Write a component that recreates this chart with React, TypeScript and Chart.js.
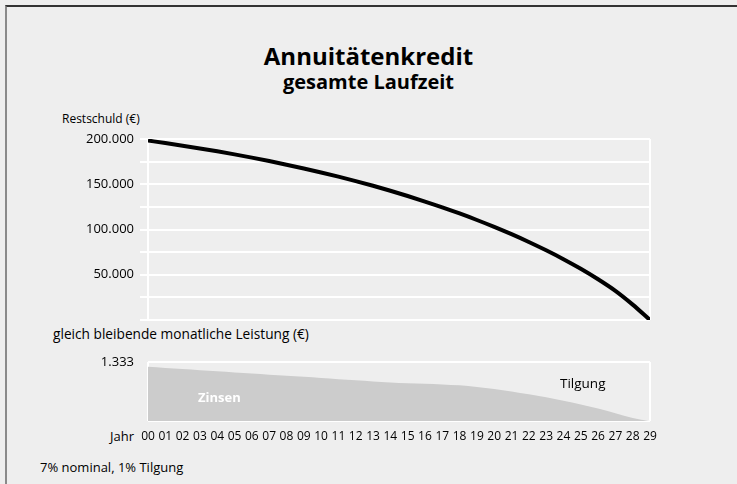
import React, { useEffect, useRef } from 'react';
import { Chart, registerables } from 'chart.js';

Chart.register(...registerables);

// ---- data ----
const years = ['00','01','02','03','04','05','06','07','08','09','10','11','12','13','14','15','16','17','18','19','20','21','22','23','24','25','26','27','28','29'];
const restschuld = [198300, 195500, 192600, 189600, 186400, 183000, 179400, 175600, 171600, 167400, 163000, 158400, 153500, 148300, 142800, 137000, 130900, 124500, 117700, 110500, 102900, 94800, 86200, 77000, 67200, 56600, 45000, 32200, 17000, 0];
const zinsen = [1225, 1200, 1174, 1149, 1124, 1098, 1073, 1047, 1022, 997, 971, 946, 920, 895, 872, 855, 840, 825, 805, 770, 725, 668, 603, 535, 455, 370, 280, 175, 70, 0];
const restschuldGrid = [0, 25000, 50000, 75000, 100000, 125000, 150000, 175000, 200000];
const restschuldLabels = [200000, 150000, 100000, 50000];
const leistungMax = 1333;

const W = 737;
const H = 484;
const FONT = "'Open Sans', 'Noto Sans', sans-serif";
const TEXT = '#000000';
const BG = '#eeeeee';

const fmt = (v: number) => String(Math.round(v)).replace(/\B(?=(\d{3})+(?!\d))/g, '.');

export default function App() {
  const topRef = useRef<HTMLCanvasElement | null>(null);
  const botRef = useRef<HTMLCanvasElement | null>(null);

  useEffect(() => {
    Chart.defaults.font.family = FONT;
    Chart.defaults.color = TEXT;
    const top = new Chart(topRef.current as HTMLCanvasElement, {
      type: 'line',
      data: {
        datasets: [
          {
            data: restschuld.map((v, i) => ({ x: i, y: v })),
            borderColor: '#000000',
            borderWidth: 4,
            pointRadius: 0,
            fill: false,
            cubicInterpolationMode: 'monotone',
          },
        ],
      },
      options: {
        responsive: false,
        animation: false,
        events: [],
        layout: { padding: { top: 139, right: W - 650, left: 0, bottom: 0 } },
        plugins: { legend: { display: false }, tooltip: { enabled: false }, title: { display: false } },
        scales: {
          x: {
            type: 'linear',
            min: 0,
            max: years.length - 1,
            afterBuildTicks: (s: any) => {
              s.ticks = [{ value: 0 }, { value: years.length - 1 }];
            },
            ticks: { display: false },
            grid: { color: '#ffffff', lineWidth: 2, drawTicks: false },
            border: { display: false },
            afterFit: (s: any) => {
              s.height = H - 320;
            },
          },
          y: {
            min: 0,
            max: 200000,
            afterBuildTicks: (s: any) => {
              s.ticks = restschuldGrid.map((v) => ({ value: v }));
            },
            ticks: {
              callback: (v: any) => (restschuldLabels.includes(Number(v)) ? fmt(Number(v)) : ''),
              padding: 6,
              color: TEXT,
              font: { size: 13, family: FONT },
            },
            grid: { color: '#ffffff', lineWidth: 2, drawTicks: true, tickLength: 8 },
            border: { display: false },
            afterFit: (s: any) => {
              s.width = 148;
            },
          },
        },
      },
    } as any);

    const bot = new Chart(botRef.current as HTMLCanvasElement, {
      type: 'line',
      data: {
        labels: years,
        datasets: [
          {
            data: zinsen,
            fill: 'origin',
            backgroundColor: '#cccccc',
            borderWidth: 0,
            borderColor: 'rgba(0,0,0,0)',
            pointRadius: 0,
            cubicInterpolationMode: 'monotone',
          },
        ],
      },
      options: {
        responsive: false,
        animation: false,
        events: [],
        layout: { padding: { top: 362, right: W - 650, left: 0, bottom: 0 } },
        plugins: { legend: { display: false }, tooltip: { enabled: false }, title: { display: false } },
        scales: {
          x: {
            type: 'category',
            offset: false,
            z: 1,
            grid: {
              color: (ctx: any) => (ctx.index === 0 || ctx.index === years.length - 1 ? '#ffffff' : 'rgba(0,0,0,0)'),
              lineWidth: 2,
              drawTicks: false,
            },
            border: { display: false },
            ticks: { autoSkip: false, maxRotation: 0, minRotation: 0, padding: 8, color: TEXT, font: { size: 12, family: FONT } },
            afterFit: (s: any) => {
              s.height = H - 421;
            },
          },
          y: {
            min: 0,
            max: leistungMax,
            z: 1,
            afterBuildTicks: (s: any) => {
              s.ticks = [{ value: 0 }, { value: leistungMax }];
            },
            ticks: {
              callback: (v: any) => (Number(v) === leistungMax ? fmt(leistungMax) : ''),
              padding: 14,
              color: TEXT,
              font: { size: 13, family: FONT },
            },
            grid: { color: '#ffffff', lineWidth: 2, drawTicks: false },
            border: { display: false },
            afterFit: (s: any) => {
              s.width = 148;
            },
          },
        },
      },
    } as any);

    return () => {
      top.destroy();
      bot.destroy();
    };
  }, []);

  const txt = (content: string, left: number, cy: number, size: number, extra: any = {}) => (
    <div
      style={{
        position: 'absolute',
        left,
        top: cy - size,
        height: size * 2,
        lineHeight: size * 2 + 'px',
        fontSize: size,
        fontFamily: FONT,
        color: TEXT,
        whiteSpace: 'nowrap',
        ...extra,
      }}
    >
      {content}
    </div>
  );

  return (
    <div style={{ position: 'fixed', left: 0, top: 0, width: W, height: H, background: BG, overflow: 'hidden' }}>
      <div
        style={{
          position: 'absolute',
          left: 5,
          top: 5,
          width: W,
          height: H,
          borderTop: '2px solid #333333',
          borderLeft: '2px solid #8a8a8a',
        }}
      />
      <div
        style={{
          position: 'absolute',
          left: 0,
          width: W,
          top: 41,
          textAlign: 'center',
          fontFamily: FONT,
          color: TEXT,
          fontWeight: 700,
        }}
      >
        <div style={{ fontSize: 24, lineHeight: '30px' }}>Annuitätenkredit</div>
        <div style={{ fontSize: 20, lineHeight: '22px' }}>gesamte Laufzeit</div>
      </div>
      {txt('Restschuld (€)', 62, 119, 12)}
      {txt('gleich bleibende monatliche Leistung (€)', 53, 334, 13.7)}
      {txt('Jahr', 110, 436, 13)}
      {txt('7% nominal, 1% Tilgung', 40, 467, 13)}
      <canvas ref={topRef} width={W} height={H} style={{ position: 'absolute', left: 0, top: 0, width: W, height: H }} />
      <canvas ref={botRef} width={W} height={H} style={{ position: 'absolute', left: 0, top: 0, width: W, height: H }} />
      {txt('Zinsen', 198, 397, 13, { color: '#ffffff', fontWeight: 700 })}
      {txt('Tilgung', 560, 383, 13.5)}
    </div>
  );
}
